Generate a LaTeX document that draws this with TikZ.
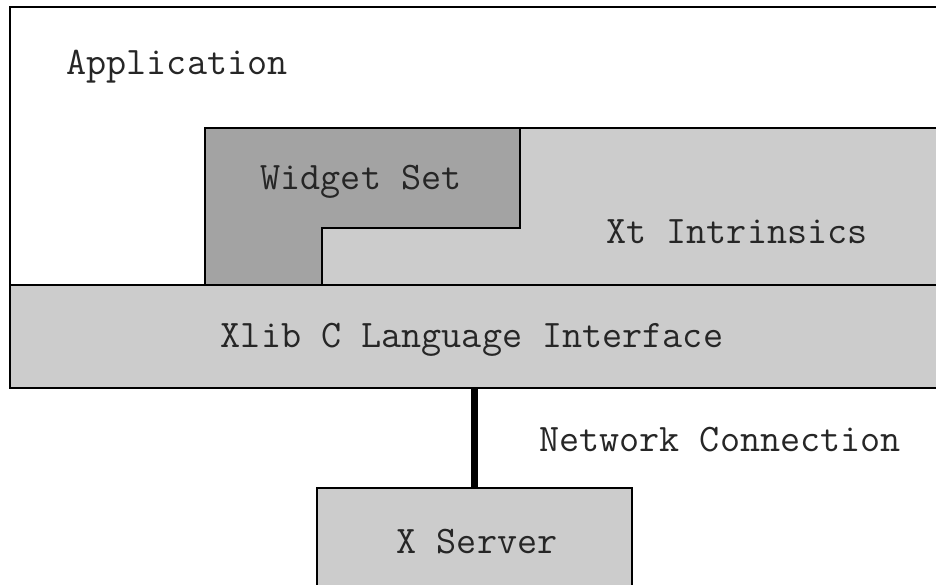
\documentclass[tikz,border=0pt]{standalone}
\usepackage{fontspec}
\usepackage{tikz}
\usetikzlibrary{positioning}

\begin{document}
\begin{tikzpicture}[
	box/.style={draw, line width=1.1pt, inner sep=0pt},
	lightbox/.style={box, fill=black!20},
	txt/.style={font=\ttfamily\fontsize{22.2}{26}\selectfont, text=black!85}
]
	\clip (0,0) rectangle (18.72,11.7);

	% layers, top to bottom
	\node[box, fill=white, minimum width=18.8cm, minimum height=5.56cm] (app) at (9.6,8.78) {};
	\node[lightbox, minimum width=14.9cm, minimum height=3.14cm] (xt) at (11.55,7.57) {};
	\draw[box, fill=black!36] (4.1,9.14) -- (10.4,9.14) -- (10.4,7.14) -- (6.44,7.14) -- (6.44,6.0) -- (4.1,6.0) -- cycle;
	\node[lightbox, minimum width=18.8cm, minimum height=2.06cm] (xlib) at (9.6,4.97) {};
	\node[lightbox, minimum width=6.3cm, minimum height=2.24cm] (srv) at (9.49,0.82) {};

	% network line
	\draw[line width=4.5pt] (srv.north) -- (srv.north |- xlib.south);

	\node[txt] (appl) at (3.54,10.36) {Application};
	\node[txt] (wsl) at (7.22,8.06) {Widget Set};
	\node[txt] (xtl) at (14.74,7.06) {Xt Intrinsics};
	\node[txt] (xlibl) at (9.44,4.9) {Xlib C Language Interface};
	\node[txt] (netl) at (14.4,2.9) {Network Connection};
	\node[txt] (srvl) at (9.54,0.86) {X Server};
\end{tikzpicture}
\end{document}
